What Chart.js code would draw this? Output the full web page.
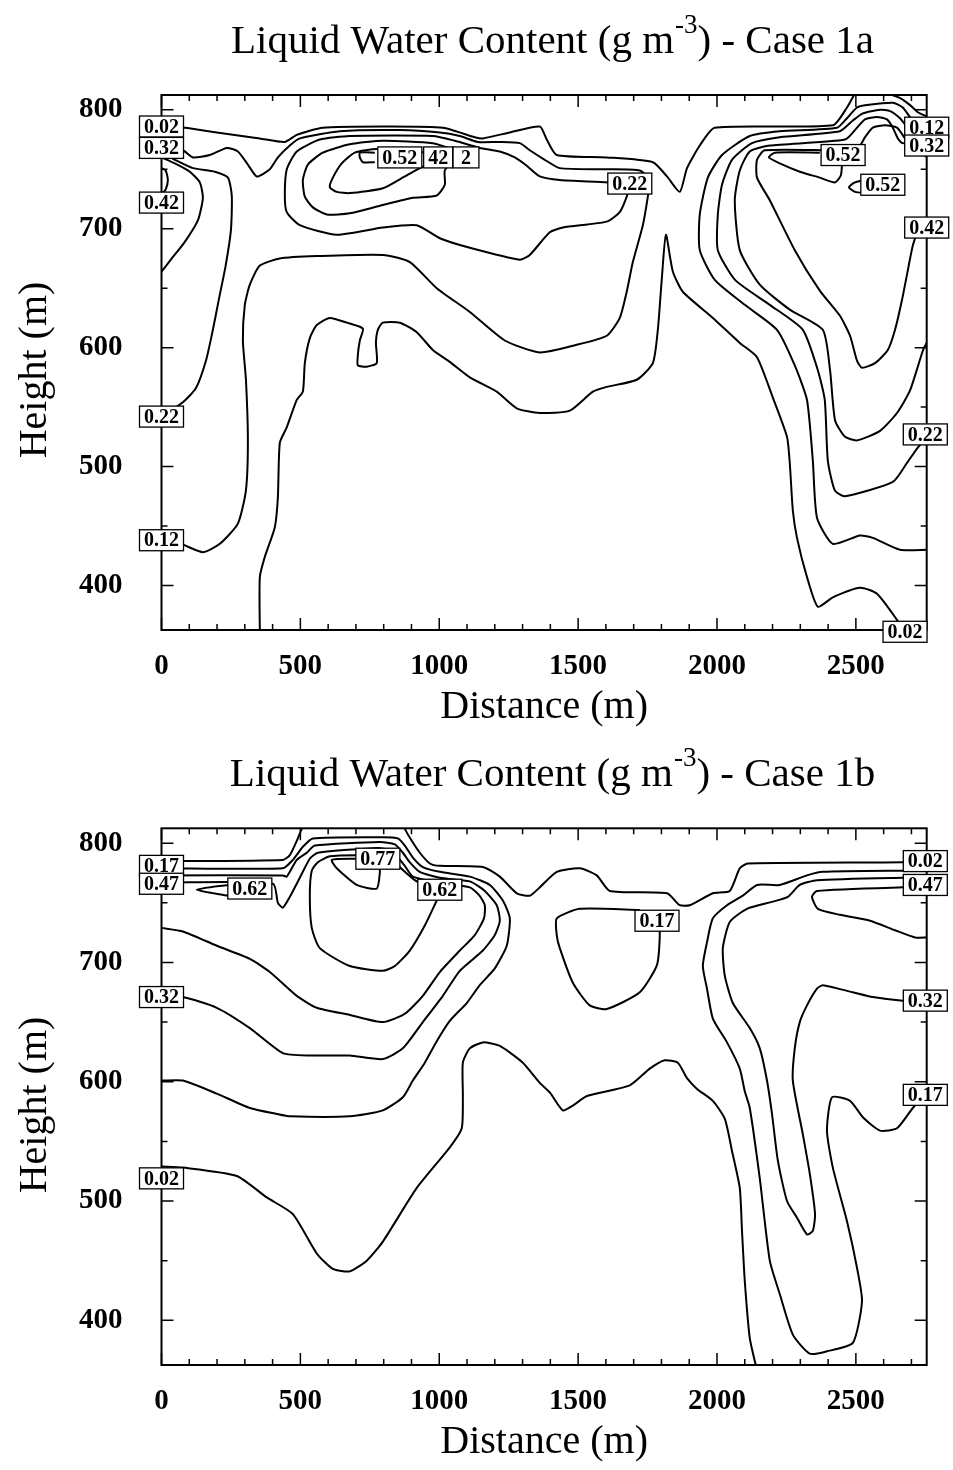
<!DOCTYPE html>
<html>
<head>
<meta charset="utf-8">
<title>Liquid Water Content - Case 1a / 1b</title>
<script src="https://cdn.jsdelivr.net/npm/chart.js@4.4.1/dist/chart.umd.min.js"></script>
<style>
  body { margin: 0; background: #fff; }
  .panel { position: absolute; left: 0; width: 953px; height: 735px; }
</style>
</head>
<body>
<div class="panel" style="top:0"><canvas id="case1a" width="953" height="735"></canvas></div>
<div class="panel" style="top:735px"><canvas id="case1b" width="953" height="735"></canvas></div>
<script>
// Axis ticks and ranges (m)
const distanceTicks = [0, 500, 1000, 1500, 2000, 2500];
const heightTicks = [400, 500, 600, 700, 800];
const distanceRange = [0, 2755];
const heightRange = [362.5, 812.5];

// ---- Case 1a contour lines, each point is [distance, height] ----
const a002Upper = [[0,786],[84,785],[199,781],[354,776],[444,773],[487,779],[581,785],[797,786],[1013,785],[1128,777],[1157,776],[1254,781],[1362,786],[1387,775],[1423,762],[1603,760],[1769,756],[1820,744],[1866,731],[1892,751],[1938,770],[1992,785],[2417,787],[2468,802],[2497,814]];
const a002Corner = [[2612,814],[2658,810],[2695,804],[2723,798],[2760,794]];
const a002Lower = [[354,360],[354,407],[372,424],[408,449],[419,474],[426,520],[451,533],[487,556],[509,563],[516,587],[534,608],[559,619],[606,625],[667,621],[725,616],[714,606],[707,594],[707,585],[739,584],[775,587],[772,604],[779,615],[797,621],[858,621],[919,613],[977,598],[1038,588],[1110,575],[1207,563],[1279,549],[1362,545],[1470,547],[1553,563],[1603,567],[1711,573],[1769,587],[1787,615],[1801,657],[1816,695],[1841,664],[1877,647],[1985,625],[2082,604],[2144,592],[2201,558],[2252,525],[2262,503],[2273,463],[2288,440],[2324,407],[2363,382],[2417,390],[2515,398],[2576,393],[2648,371],[2677,360]];
const a012Left = [[0,438],[80,434],[149,428],[210,435],[275,452],[304,480],[311,522],[304,573],[293,606],[300,636],[318,653],[354,669],[426,675],[559,677],[797,678],[894,672],[991,650],[1110,630],[1236,606],[1362,596],[1488,602],[1603,610],[1650,625],[1675,647],[1697,672],[1733,703],[1751,727],[1758,741],[1722,749],[1603,750],[1434,751],[1380,758],[1326,766],[1290,772],[1218,773],[1139,773],[1074,778],[1002,781],[858,783],[642,782],[498,776],[462,770],[419,760],[390,750],[343,744],[311,754],[275,765],[235,768],[174,762],[113,760],[77,766],[0,770]];
const a022Left = [[0,764],[48,758],[113,751],[192,748],[239,743],[253,728],[250,699],[231,669],[206,640],[185,615],[160,589],[124,566],[77,554],[0,542]];
const a032Left = [[0,760],[48,755],[102,748],[138,739],[149,726],[131,707],[84,689],[37,675],[0,664]];
const a042Left = [[0,751],[15,749],[23,741],[15,733],[0,729]];
const a022Mid = [[1686,737],[1607,739],[1434,741],[1362,744],[1315,753],[1272,760],[1218,765],[1146,768],[1056,774],[977,778],[678,778],[570,775],[487,765],[451,750],[444,728],[451,714],[498,703],[631,695],[797,701],[919,703],[1002,692],[1110,684],[1290,674],[1326,678],[1398,697],[1445,701],[1603,706],[1650,714],[1675,727],[1686,737]];
const a032Mid = [[1110,760],[1056,766],[977,772],[797,774],[678,771],[581,764],[527,754],[509,741],[516,727],[545,718],[595,712],[678,713],[797,720],[905,726],[991,728],[1020,737],[1020,749],[1056,758],[1110,760]];
const a042Mid = [[995,760],[930,765],[775,767],[696,764],[649,755],[617,743],[606,735],[631,731],[678,730],[797,734],[876,744],[930,751],[973,756],[995,760]];
const a052Mid = [[768,764],[714,764],[714,760],[725,756],[768,756]];
const a012Right = [[2760,785],[2705,791],[2669,802],[2633,806],[2540,804],[2504,802],[2468,793],[2432,785],[2226,782],[2118,778],[2018,762],[1967,743],[1938,712],[1938,682],[1992,657],[2100,636],[2216,615],[2280,585],[2324,556],[2345,505],[2360,457],[2417,435],[2515,442],[2561,440],[2659,430],[2760,430]];
const a022Right = [[2760,776],[2684,786],[2659,793],[2623,799],[2587,800],[2525,797],[2489,791],[2442,782],[2226,777],[2126,772],[2054,758],[2018,737],[2003,712],[2003,682],[2065,657],[2190,636],[2309,615],[2363,581],[2388,556],[2399,505],[2424,480],[2460,475],[2633,487],[2684,503],[2723,516],[2760,525]];
const a032Right = [[2760,770],[2669,772],[2651,776],[2633,785],[2612,792],[2576,794],[2533,792],[2504,785],[2461,775],[2190,770],[2118,765],[2082,749],[2064,724],[2082,682],[2154,653],[2262,632],[2381,615],[2407,581],[2425,539],[2461,525],[2504,522],[2587,530],[2648,545],[2695,564],[2742,598],[2760,606]];
const a042Right = [[2760,760],[2713,766],[2677,776],[2648,785],[2605,787],[2561,785],[2533,777],[2508,768],[2443,766],[2172,766],[2144,758],[2144,743],[2190,724],[2280,682],[2370,648],[2442,627],[2479,610],[2504,589],[2522,583],[2569,587],[2615,598],[2641,615],[2666,640],[2687,665],[2705,686],[2723,697],[2760,708]];
const a052Right = [[2370,764],[2208,764],[2187,760],[2226,755],[2298,748],[2370,743],[2425,739],[2446,745],[2450,754]];
const a052Small = [[2536,741],[2497,739],[2475,735],[2497,731],[2536,730]];

// Case 1a contour labels (the three middle ones overlap, only their visible parts are printed)
const case1aLabelText = ['0.02','0.32','0.42','0.22','0.12','0.12','0.32','0.42','0.22','0.02','0.22','2','42','0.52','0.52','0.52'];
const case1aLabelX = [0, 0, 0, 0, 0, 2755, 2755, 2755, 2750, 2677, 1686, 1096, 996, 858, 2454, 2597];
const case1aLabelY = [786, 768, 722, 542, 438, 785, 770, 701, 527, 361, 738, 760, 760, 760, 762, 737];

// ---- Case 1b contour lines ----
const b002Upper = [[0,785],[437,786],[462,790],[487,802],[505,812],[520,818],[865,818],[876,812],[901,802],[930,792],[966,783],[1002,781],[1157,780],[1218,772],[1279,758],[1326,756],[1362,763],[1423,776],[1506,779],[1567,773],[1614,760],[1820,758],[1866,748],[1902,748],[1985,758],[2046,760],[2082,779],[2111,783],[2669,784],[2760,785]];
const b017Left = [[0,779],[437,779],[473,786],[509,797],[545,804],[797,805],[851,804],[876,798],[905,788],[941,780],[1002,776],[1110,772],[1182,765],[1229,752],[1254,737],[1243,714],[1200,695],[1146,681],[1099,666],[1038,651],[991,634],[948,616],[905,601],[869,587],[797,576],[678,571],[462,571],[415,573],[318,578],[199,590],[77,601],[0,601]];
const b032Left = [[0,773],[437,773],[451,772],[487,786],[523,792],[552,798],[786,801],[840,799],[869,792],[894,784],[930,776],[1002,771],[1110,768],[1164,760],[1207,748],[1218,735],[1200,723],[1157,710],[1074,693],[1013,672],[941,650],[869,628],[797,619],[678,622],[534,622],[437,624],[318,645],[199,662],[77,671],[0,671]];
const b047Left = [[0,767],[401,766],[419,750],[437,746],[462,755],[498,771],[534,787],[563,792],[779,796],[822,794],[851,788],[876,781],[905,772],[1002,767],[1110,763],[1145,756],[1164,748],[1161,737],[1128,723],[1074,710],[1002,692],[941,672],[876,657],[797,650],[678,656],[559,662],[487,672],[390,692],[318,703],[199,714],[77,726],[0,729]];
const b062Loop = [[991,752],[948,731],[894,710],[840,697],[797,693],[678,697],[570,712],[541,729],[534,756],[541,777],[563,784],[606,789],[703,790],[804,789],[840,784],[876,776],[912,769],[948,764],[991,752]];
const b062Wedge = [[239,765],[127,761],[239,756]];
const b077Loop = [[703,787],[613,786],[631,779],[703,765],[775,762],[786,775],[786,784]];
const b002Lower = [[0,529],[77,528],[271,521],[379,503],[473,489],[559,456],[617,443],[678,441],[739,450],[797,466],[919,511],[1038,545],[1081,561],[1085,588],[1085,616],[1110,628],[1157,633],[1218,630],[1301,616],[1362,599],[1398,591],[1445,576],[1481,580],[1532,588],[1686,597],[1758,611],[1812,618],[1859,616],[1892,603],[1928,594],[1985,584],[2028,569],[2054,542],[2082,511],[2090,475],[2100,433],[2118,385],[2144,358]];
const b017Right = [[2760,777],[2669,777],[2381,776],[2324,773],[2226,765],[2144,765],[2093,756],[2036,748],[1985,737],[1964,717],[1949,697],[1964,678],[1985,653],[2036,633],[2082,611],[2100,592],[2118,578],[2154,519],[2190,450],[2226,422],[2273,388],[2334,372],[2396,374],[2489,381],[2522,416],[2504,444],[2468,483],[2417,528],[2396,559],[2414,587],[2479,584],[2526,570],[2587,559],[2648,561],[2705,578],[2750,589]];
const b032Right = [[2760,771],[2669,771],[2360,769],[2298,765],[2255,755],[2201,751],[2108,745],[2046,734],[2021,712],[2028,689],[2057,666],[2118,645],[2154,628],[2180,601],[2198,573],[2219,534],[2252,500],[2288,486],[2324,472],[2345,475],[2353,489],[2334,523],[2309,556],[2273,601],[2280,628],[2298,650],[2324,664],[2360,678],[2381,681],[2489,675],[2561,671],[2669,668],[2760,668]];
const b047Right = [[2760,763],[2669,763],[2360,760],[2342,755],[2363,745],[2442,740],[2551,735],[2641,727],[2713,721],[2760,721]];
const b017Loop = [[1722,744],[1506,745],[1423,737],[1423,723],[1434,712],[1481,683],[1542,664],[1603,661],[1722,675],[1784,698],[1794,725],[1784,735]];

// Case 1b contour labels
const case1bLabelText = ['0.17','0.47','0.32','0.02','0.62','0.77','0.62','0.17','0.02','0.47','0.32','0.17'];
const case1bLabelX = [0, 0, 0, 0, 318, 779, 1002, 1784, 2750, 2750, 2750, 2750];
const case1bLabelY = [781, 766, 671, 519, 762, 787, 761, 735, 785, 765, 668, 589];

const SERIF = "'Liberation Serif', 'Times New Roman', serif";

function toPoints(line) {
    return line.map(p => ({ x: p[0], y: p[1] }));
}

function buildDatasets(lines) {
    return lines.map(l => ({
        label: l.level,
        data: toPoints(l.points),
        showLine: true,
        borderColor: '#000',
        borderWidth: 2,
        pointRadius: 0,
        tension: 0.2,
        fill: false
    }));
}

// Frame with inward tick marks on all four sides
const framePlugin = {
    id: 'frame',
    beforeDatasetsDraw(chart) {
        const { ctx, chartArea: a } = chart;
        const x = chart.scales.x, y = chart.scales.y;
        ctx.save();
        ctx.strokeStyle = '#000';
        ctx.lineWidth = 2;
        ctx.strokeRect(a.left, a.top, a.right - a.left, a.bottom - a.top);
        ctx.lineWidth = 1.5;
        ctx.beginPath();
        for (let v = 0; v <= distanceRange[1]; v += 100) {
            const px = x.getPixelForValue(v);
            const len = v % 500 === 0 ? 12 : 6;
            ctx.moveTo(px, a.bottom); ctx.lineTo(px, a.bottom - len);
            ctx.moveTo(px, a.top); ctx.lineTo(px, a.top + len);
        }
        for (let v = 400; v <= heightRange[1]; v += 50) {
            const py = y.getPixelForValue(v);
            const len = v % 100 === 0 ? 12 : 6;
            ctx.moveTo(a.left, py); ctx.lineTo(a.left + len, py);
            ctx.moveTo(a.right, py); ctx.lineTo(a.right - len, py);
        }
        ctx.stroke();
        ctx.restore();
    }
};

// Boxed contour labels, placed through the chart scales
function makeLabelPlugin(texts, xs, ys) {
    return {
        id: 'contourLabels',
        afterDatasetsDraw(chart) {
            const { ctx } = chart;
            const x = chart.scales.x, y = chart.scales.y;
            ctx.save();
            ctx.font = 'bold 20px ' + SERIF;
            ctx.textAlign = 'center';
            ctx.textBaseline = 'middle';
            texts.forEach((t, i) => {
                const px = x.getPixelForValue(xs[i]);
                const py = y.getPixelForValue(ys[i]);
                const w = Math.max(ctx.measureText(t).width + 9, 26);
                const h = 21;
                ctx.fillStyle = '#fff';
                ctx.fillRect(px - w / 2, py - h / 2, w, h);
                ctx.strokeStyle = '#000';
                ctx.lineWidth = 1.3;
                ctx.strokeRect(px - w / 2, py - h / 2, w, h);
                ctx.fillStyle = '#000';
                ctx.fillText(t, px, py + 1);
            });
            ctx.restore();
        }
    };
}

// Panel title (with superscript) and axis titles
function makeTitlePlugin(caseName, titleBaseline) {
    return {
        id: 'panelTitles',
        afterDraw(chart) {
            const { ctx } = chart;
            ctx.save();
            ctx.fillStyle = '#000';
            ctx.textBaseline = 'alphabetic';
            ctx.textAlign = 'left';
            const part1 = 'Liquid Water Content (g m';
            const sup = '-3';
            const part2 = ') - Case ' + caseName;
            ctx.font = '41px ' + SERIF;
            const w1 = ctx.measureText(part1).width;
            const w2 = ctx.measureText(part2).width;
            ctx.font = '27px ' + SERIF;
            const ws = ctx.measureText(sup).width;
            let sx = 552 - (w1 + ws + w2) / 2;
            ctx.font = '41px ' + SERIF;
            ctx.fillText(part1, sx, titleBaseline);
            ctx.font = '27px ' + SERIF;
            ctx.fillText(sup, sx + w1 + 1, titleBaseline - 20);
            ctx.font = '41px ' + SERIF;
            ctx.fillText(part2, sx + w1 + ws + 1, titleBaseline);

            ctx.font = '40px ' + SERIF;
            ctx.textAlign = 'center';
            const a = chart.chartArea;
            ctx.fillText('Distance (m)', (a.left + a.right) / 2, 718);

            ctx.translate(46, 370);
            ctx.rotate(-Math.PI / 2);
            ctx.fillText('Height (m)', 0, 0);
            ctx.restore();
        }
    };
}

function makeChart(canvasId, lines, labelPlugin, titlePlugin, topPad) {
    return new Chart(document.getElementById(canvasId), {
        type: 'scatter',
        data: { datasets: buildDatasets(lines) },
        options: {
            responsive: false,
            animation: false,
            events: [],
            layout: { padding: { top: topPad, right: 26.3, bottom: 0, left: 0 } },
            plugins: {
                legend: { display: false },
                tooltip: { enabled: false },
                title: { display: false }
            },
            scales: {
                x: {
                    type: 'linear',
                    min: distanceRange[0],
                    max: distanceRange[1],
                    grid: { display: false, drawTicks: false },
                    border: { display: false },
                    ticks: {
                        color: '#000',
                        font: { family: SERIF, size: 29, weight: 'bold' },
                        padding: 19,
                        maxRotation: 0,
                        autoSkip: false,
                        callback: v => String(v)
                    },
                    afterBuildTicks: s => { s.ticks = distanceTicks.map(v => ({ value: v })); },
                    afterFit: s => { s.height = 105; }
                },
                y: {
                    type: 'linear',
                    min: heightRange[0],
                    max: heightRange[1],
                    grid: { display: false, drawTicks: false },
                    border: { display: false },
                    ticks: {
                        color: '#000',
                        font: { family: SERIF, size: 29, weight: 'bold' },
                        padding: 39,
                        autoSkip: false,
                        callback: v => String(v)
                    },
                    afterBuildTicks: s => { s.ticks = heightTicks.map(v => ({ value: v })); },
                    afterFit: s => { s.width = 161.5; }
                }
            }
        },
        plugins: [framePlugin, labelPlugin, titlePlugin]
    });
}

const case1aLines = [
    { level: '0.02', points: a002Upper }, { level: '0.02', points: a002Corner }, { level: '0.02', points: a002Lower },
    { level: '0.12', points: a012Left }, { level: '0.12', points: a012Right },
    { level: '0.22', points: a022Left }, { level: '0.22', points: a022Mid }, { level: '0.22', points: a022Right },
    { level: '0.32', points: a032Left }, { level: '0.32', points: a032Mid }, { level: '0.32', points: a032Right },
    { level: '0.42', points: a042Left }, { level: '0.42', points: a042Mid }, { level: '0.42', points: a042Right },
    { level: '0.52', points: a052Mid }, { level: '0.52', points: a052Right }, { level: '0.52', points: a052Small }
];

const case1bLines = [
    { level: '0.02', points: b002Upper }, { level: '0.02', points: b002Lower },
    { level: '0.17', points: b017Left }, { level: '0.17', points: b017Right }, { level: '0.17', points: b017Loop },
    { level: '0.32', points: b032Left }, { level: '0.32', points: b032Right },
    { level: '0.47', points: b047Left }, { level: '0.47', points: b047Right },
    { level: '0.62', points: b062Loop }, { level: '0.62', points: b062Wedge },
    { level: '0.77', points: b077Loop }
];

makeChart('case1a', case1aLines,
    makeLabelPlugin(case1aLabelText, case1aLabelX, case1aLabelY),
    makeTitlePlugin('1a', 53), 95);
makeChart('case1b', case1bLines,
    makeLabelPlugin(case1bLabelText, case1bLabelX, case1bLabelY),
    makeTitlePlugin('1b', 51), 93.3);
</script>
</body>
</html>
